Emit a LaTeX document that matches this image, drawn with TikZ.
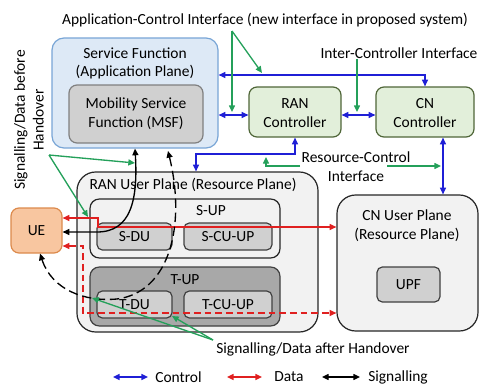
\documentclass[tikz,border=0pt]{standalone}
\usepackage{fontspec}
\setmainfont{Carlito}
\usetikzlibrary{arrows.meta,fit}
\definecolor{cblue}{HTML}{1F1FD6}
\definecolor{cred}{HTML}{E02020}
\definecolor{cgreen}{HTML}{24A05A}
\definecolor{sffill}{HTML}{DDE9F6}
\definecolor{sfdraw}{HTML}{78A5D6}
\definecolor{gfill}{HTML}{E2EFDA}
\definecolor{gdraw}{HTML}{4F6638}
\definecolor{lgray}{HTML}{F2F2F2}
\definecolor{mgray}{HTML}{D0D0D0}
\definecolor{dgray}{HTML}{A8A8A8}
\definecolor{uefill}{HTML}{F8C6A0}
\definecolor{uedraw}{HTML}{DC8A4C}
\begin{document}
\begin{tikzpicture}[x=0.75pt,y=-0.75pt,
  every node/.style={font=\fontsize{11.6}{14}\selectfont, align=center},
  box/.style={inner sep=0pt, line width=0.9pt, rounded corners=6pt},
  sfbox/.style={box, fill=sffill, draw=sfdraw, rounded corners=9pt},
  msfbox/.style={box, fill=mgray, draw=black!50, rounded corners=6pt},
  ctlbox/.style={box, fill=gfill, draw=gdraw, rounded corners=6pt},
  planebox/.style={box, fill=lgray, draw=black!85, rounded corners=14pt},
  upbox/.style={box, fill=lgray, draw=black!85, rounded corners=7pt},
  tupbox/.style={box, fill=dgray, draw=black!75, rounded corners=7pt},
  unitbox/.style={box, fill=mgray, draw=black!75, rounded corners=4pt},
  uebox/.style={box, fill=uefill, draw=uedraw, rounded corners=6pt},
  tip/.style={-{Triangle[length=5pt,width=4.5pt]}},
  both/.style={{Triangle[length=5pt,width=4.5pt]}-{Triangle[length=5pt,width=4.5pt]}},
  ctrl/.style={both, draw=cblue, line width=1.1pt},
  datal/.style={both, draw=cred, line width=1.1pt},
  sigl/.style={both, draw=black, line width=1pt},
  gline/.style={tip, draw=cgreen, line width=1pt},
  txt/.style={inner sep=0pt}
]
\useasboundingbox (0,0) rectangle (483,389);

% boxes
\node[sfbox, fit={(52,38)(218,148)}] (sf) {};
\node[txt] (sflbl) at (135,63.5) {Service Function\\(Application Plane)};
\node[msfbox, fit={(69,85)(203,143)}] (msf) {};
\node[txt] (msflbl) at (136,114) {Mobility Service\\Function (MSF)};
\node[ctlbox, fit={(249,87)(341,137)}] (ranc) {};
\node[txt] (ranclbl) at (295,113) {RAN\\Controller};
\node[ctlbox, fit={(376,87)(474,137)}] (cnc) {};
\node[txt] (cnclbl) at (425,113) {CN\\Controller};

\node[planebox, fit={(77,172)(318,332)}] (ranup) {};
\node[txt] (ranuplbl) at (193,185) {RAN User Plane (Resource Plane)};
\node[upbox, fit={(90,199)(280,258)}] (sup) {};
\node[txt] (suplbl) at (211,211) {S-UP};
\node[unitbox, fit={(97,223)(172,250)}] (sdu) {};
\node[txt] at (sdu) {S-DU};
\node[unitbox, fit={(184,223)(272,250)}] (scu) {};
\node[txt] at (scu) {S-CU-UP};
\node[tupbox, fit={(90,267)(280,326)}] (tup) {};
\node[txt] (tuplbl) at (185,280) {T-UP};
\node[unitbox, fit={(97,291)(172,318)}] (tdu) {};
\node[txt] at (tdu) {T-DU};
\node[unitbox, fit={(184,291)(272,318)}] (tcu) {};
\node[txt] at (tcu) {T-CU-UP};

\node[planebox, fit={(337,195)(478,331)}] (cnup) {};
\node[txt] (cnuplbl) at (407,225.5) {CN User Plane\\(Resource Plane)};
\node[unitbox, fit={(377,267)(440,302)}] (upf) {};
\node[txt] at (upf) {UPF};

\node[uebox, fit={(11,208)(62,253)}] (ue) {};
\node[txt] at (ue) {UE};

% labels
\node[txt] (aci) at (265,20) {Application-Control Interface (new interface in proposed system)};
\node[txt] (ici) at (399,53) {Inter-Controller Interface};
\node[txt] (rci) at (356,166.5) {Resource-Control\\Interface};
\node[txt, rotate=90] (sdb) at (29,120) {Signalling/Data before\\Handover};
\node[txt] (sda) at (313,349) {Signalling/Data after Handover};

% helper coordinates
\coordinate (r75) at (0,75);
\coordinate (r115) at (0,115);
\coordinate (cx) at (443,0);
\coordinate (rb) at (196,154);
\coordinate (r218) at (0,218);
\coordinate (r227) at (0,227);
\coordinate (r232) at (0,232);
\coordinate (r246) at (0,246);
\coordinate (r313) at (0,313);
\coordinate (c40) at (40,0);

% control (blue)
\draw[ctrl] (sf.east |- r75) -| (cnc.north);
\draw[ctrl] (sf.east |- r115) -- (ranc.west |- r115);
\draw[ctrl] (ranc.east |- r115) -- (cnc.west |- r115);
\draw[ctrl] (ranc.south) |- (rb) -- (rb |- ranup.north);
\draw[ctrl] (cnc.south -| cx) -- (cnup.north -| cx);

% data (red)
\draw[datal] (ue.east |- r218) -- (98,218) -- (98,227) -- (cnup.west |- r227);
\draw[datal, dash pattern=on 5pt off 3pt] (ue.east |- r246) -- (83,246) -- (83,313) -- (cnup.west |- r313);

% signalling (black)
\draw[sigl] (ue.east |- r232) -- (97,232) .. controls (131,232) and (138,200) .. (sf.south);
\coordinate (msfd) at (168,151);
\draw[sigl, dash pattern=on 7pt off 3.5pt] (msfd) .. controls (186,225) and (170,292) .. (117,299) .. controls (85,302) and (52,290) .. (ue.south -| c40);

% green interface pointers
\coordinate (acs) at (232,31);
\draw[gline] (acs) -- (232,112);
\draw[gline] (acs) -- (262,73);
\coordinate (ics) at (357,59);
\draw[gline] (ics) -- (357,112);
\draw[gline] (300,166) -| (266,157);
\draw[gline] (387,166) -- (441,166);
\coordinate (sdbs) at (49,155);
\draw[gline] (sdbs) -- (135,163);
\draw[gline] (sdbs) -- (88,217);
\coordinate (sdas) at (213,340);
\draw[gline] (sdas) -- (92,298);
\draw[gline] (sdas) -- (172,316);

% legend
\node[txt, anchor=west] (lgc) at (155,377) {Control};
\node[txt, anchor=west] (lgd) at (274,377) {Data};
\node[txt, anchor=west] (lgs) at (368,377) {Signalling};
\coordinate (lc1) at (113,377); \coordinate (lc2) at (148,377);
\coordinate (ld1) at (227,377); \coordinate (ld2) at (262,377);
\coordinate (ls1) at (322,377); \coordinate (ls2) at (360,377);
\draw[ctrl] (lc1) -- (lc2);
\draw[datal] (ld1) -- (ld2);
\draw[sigl] (ls1) -- (ls2);
\end{tikzpicture}
\end{document}
